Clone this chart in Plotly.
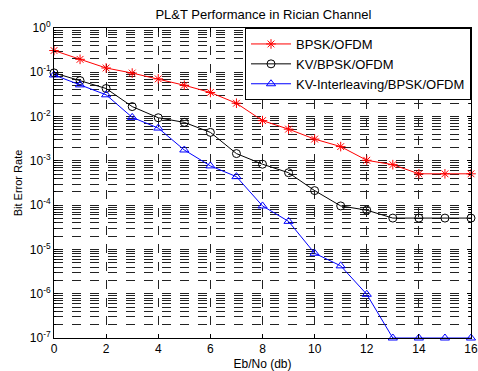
import plotly.graph_objects as go

ebno = list(range(0, 17))
ber_bpsk = [0.31, 0.196, 0.125, 0.096, 0.071, 0.051, 0.035, 0.020, 0.0081, 0.0052,
            0.0031, 0.0021, 0.00103, 0.00082, 0.00051, 0.00051, 0.00051]
ber_kv = [0.097, 0.065, 0.043, 0.0168, 0.0094, 0.0074, 0.0044, 0.00146, 0.00084, 0.00054,
          0.000213, 9.6e-5, 7.7e-5, 5.1e-5, 5.1e-5, 5.1e-5, 5.1e-5]
ber_kvi = [0.087, 0.052, 0.031, 0.0096, 0.0055, 0.00176, 0.00077, 0.00044, 9.6e-5, 4.3e-5,
           8.2e-6, 4.26e-6, 9.7e-7, 1e-7, 1e-7, 1e-7, 1e-7]
names = ["BPSK/OFDM", "KV/BPSK/OFDM", "KV-Interleaving/BPSK/OFDM"]
ytick_vals = [1e-7, 1e-6, 1e-5, 1e-4, 1e-3, 1e-2, 1e-1, 1]
ytick_text = ["10<sup>-7</sup>", "10<sup>-6</sup>", "10<sup>-5</sup>", "10<sup>-4</sup>",
              "10<sup>-3</sup>", "10<sup>-2</sup>", "10<sup>-1</sup>", "10<sup>0</sup>"]

FONT = "Liberation Sans, Arial, sans-serif"
fig = go.Figure()
series = [(ber_bpsk, "red", "asterisk-open"), (ber_kv, "black", "circle-open"),
          (ber_kvi, "blue", "triangle-up-open")]
for (ys, col, sym), nm in zip(series, names):
    fig.add_trace(go.Scatter(x=ebno, y=ys, mode="lines+markers", name=nm,
                             line=dict(color=col, width=1),
                             marker=dict(symbol=sym, size=8, color=col,
                                         line=dict(color=col, width=1)),
                             cliponaxis=False))

fig.update_layout(
    width=478, height=371,
    margin=dict(l=54, r=7, t=28, b=33),
    paper_bgcolor="white", plot_bgcolor="white",
    font=dict(family=FONT, size=12, color="black"),
    title=dict(text="PL&T Performance in Rician Channel", x=0.551, xanchor="center",
               y=0.962, yanchor="middle", font=dict(size=13)),
    showlegend=True,
    legend=dict(x=1, xanchor="right", y=1, yanchor="top", bordercolor="black",
                borderwidth=1, bgcolor="white", font=dict(size=13),
                tracegroupgap=0, itemwidth=40),
)
fig.update_xaxes(range=[0, 16], dtick=2, tick0=0, showline=True, linecolor="black",
                 mirror="ticks", ticks="inside", ticklen=4, tickcolor="black",
                 showgrid=True, gridcolor="#222", griddash="dash", gridwidth=1,
                 zeroline=False, automargin=False, tickfont=dict(size=12),
                 title=dict(text="Eb/No (db)", standoff=4, font=dict(size=12)))
fig.update_yaxes(type="log", range=[-7, 0], tickmode="array", tickvals=ytick_vals,
                 ticktext=ytick_text, tickfont=dict(size=12),
                 showline=True, linecolor="black", mirror="ticks", ticks="inside",
                 ticklen=4, tickcolor="black",
                 showgrid=True, gridcolor="#222", griddash="dash", gridwidth=1,
                 minor=dict(dtick="D1", showgrid=True, gridcolor="#222",
                            griddash="dash", ticks="inside", ticklen=2,
                            tickcolor="black"),
                 zeroline=False, automargin=False,
                 title=dict(text="Bit Error Rate", standoff=4, font=dict(size=11)))
fig.write_html("out.html", config={"displayModeBar": False},
               post_script="document.body.style.margin='0';document.body.style.overflow='hidden';")
